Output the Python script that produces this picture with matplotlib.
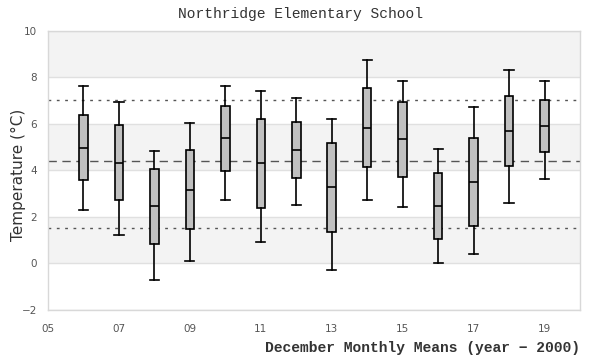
import matplotlib
matplotlib.use("Agg")
import matplotlib.pyplot as plt

years = [6, 7, 8, 9, 10, 11, 12, 13, 14, 15, 16, 17, 18, 19]
whisk_hi = [7.61, 6.92, 4.83, 6.03, 7.61, 7.39, 7.09, 6.19, 8.72, 7.82, 4.90, 6.70, 8.30, 7.82]
q3 = [6.36, 5.93, 4.05, 4.87, 6.75, 6.19, 6.06, 5.16, 7.52, 6.92, 3.87, 5.37, 7.18, 7.01]
medians = [4.94, 4.30, 2.46, 3.14, 5.37, 4.30, 4.87, 3.28, 5.80, 5.33, 2.46, 3.48, 5.67, 5.89]
q1 = [3.57, 2.71, 0.83, 1.46, 3.95, 2.36, 3.65, 1.33, 4.13, 3.70, 1.03, 1.59, 4.17, 4.77]
whisk_lo = [2.28, 1.20, -0.72, 0.09, 2.71, 0.90, 2.49, -0.30, 2.71, 2.41, 0.00, 0.39, 2.58, 3.61]

ref_upper = 7.0
ref_mean = 4.38
ref_lower = 1.5

xticks = [5, 7, 9, 11, 13, 15, 17, 19]
xticklabels = ["05", "07", "09", "11", "13", "15", "17", "19"]
yticks = [-2, 0, 2, 4, 6, 8, 10]

fig = plt.figure(figsize=(6, 3.6), dpi=100)
ax = fig.add_axes([48/600, 50/360, 532/600, 279.5/360])

# alternating bands
for lo in [0, 4, 8]:
    ax.axhspan(lo, lo + 2, color="#f3f3f3", zorder=0, lw=0)
for y in yticks:
    ax.axhline(y, color="#e0e0e0", lw=1, zorder=0.5)

ax.axhline(ref_upper, color="#555555", lw=1, ls=(0, (2, 4)), zorder=1)
ax.axhline(ref_mean, color="#555555", lw=1, ls=(0, (6, 4)), zorder=1)
ax.axhline(ref_lower, color="#555555", lw=1, ls=(0, (2, 4)), zorder=1)

stats = []
for i in range(len(years)):
    stats.append(dict(med=medians[i], q1=q1[i], q3=q3[i],
                      whislo=whisk_lo[i], whishi=whisk_hi[i], fliers=[]))

ax.bxp(stats, positions=years, widths=0.24, showfliers=False, patch_artist=True,
       boxprops=dict(facecolor="#c0c0c0", edgecolor="black", linewidth=1.2),
       medianprops=dict(color="black", linewidth=1.2),
       whiskerprops=dict(color="black", linewidth=1.2),
       capprops=dict(color="black", linewidth=1.2),
       capwidths=0.26, zorder=3)

ax.set_xlim(5, 20)
ax.set_ylim(-2, 10)
ax.set_xticks(xticks)
ax.set_xticklabels(xticklabels)
ax.set_yticks(yticks)
ax.tick_params(length=0, labelsize=7.5, labelcolor="#555555")
ax.tick_params(axis="x", pad=10)
ax.tick_params(axis="y", pad=8)
for s in ax.spines.values():
    s.set_color("#d8d8d8")
    s.set_linewidth(1)

fig.text(0.5, 0.96, "Northridge Elementary School", ha="center", va="center",
         family="Liberation Mono", fontsize=10.5, color="#333333")
fig.text(580/600, 1 - 348/360, "December Monthly Means (year \u2212 2000)", ha="right",
         va="center", family="Liberation Mono", fontsize=10.5, fontweight="bold",
         color="#333333")
fig.text(18/600, 1 - 175/360, "Temperature (\u00b0C)", rotation=90, ha="center",
         va="center", family="DejaVu Sans", fontsize=11, color="#333333")

fig.savefig("out.png", dpi=100)
